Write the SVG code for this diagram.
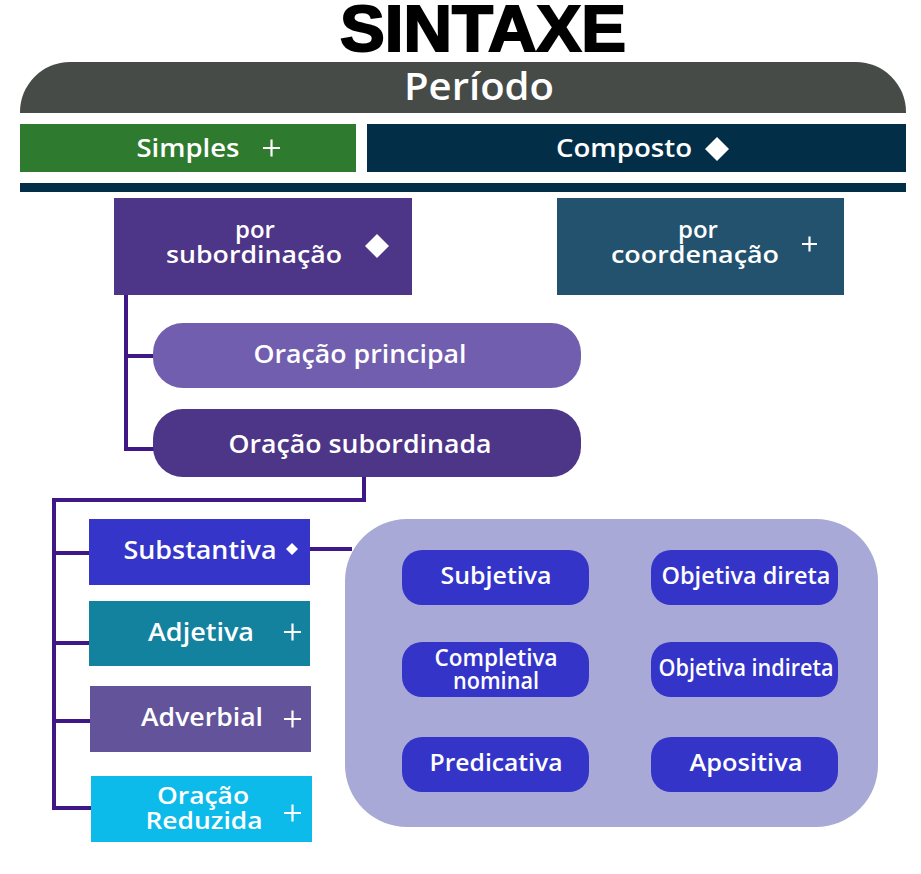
<svg xmlns="http://www.w3.org/2000/svg" width="921" height="874" viewBox="0 0 921 874">
<style>
text{font-family:"Open Sans","Liberation Sans",sans-serif;fill:#fff;text-anchor:middle;font-weight:600}
.t{font-family:"Liberation Sans",sans-serif;font-weight:700;fill:#000;stroke:#000;stroke-width:2}
.m{font-size:26px}
.d{font-size:24px}
.s{font-size:23px;font-weight:600}
.conn{fill:none;stroke:#3f1786;stroke-width:4}
.pl{stroke:#fff;stroke-width:2.2;fill:none}
.pill{fill:#3434c9}
</style>
<rect width="921" height="874" fill="#fff"/>
<g id="title"><text class="t" x="483" y="51" font-size="64" textLength="286" lengthAdjust="spacingAndGlyphs">SINTAXE</text></g>
<g id="periodo">
<path d="M20,113 V112 A50,50 0 0 1 70,62 H856 A50,50 0 0 1 906,112 V113 Z" fill="#464b48"/>
<text x="479" y="100" font-size="38" font-weight="500" textLength="150" lengthAdjust="spacingAndGlyphs">Período</text>
</g>
<g id="simples">
<rect x="20" y="124" width="336" height="48" fill="#2e7b2f"/>
<text class="m" x="188" y="157" font-weight="500" textLength="103" lengthAdjust="spacingAndGlyphs">Simples</text>
<path class="pl" d="M263,148 H280 M271.5,139.5 V156.5"/>
</g>
<g id="composto">
<rect x="367" y="124" width="539" height="48" fill="#022e48"/>
<text class="m" x="624" y="157" font-weight="500" textLength="136" lengthAdjust="spacingAndGlyphs">Composto</text>
<path d="M717,137 L729,149 L717,161 L705,149 Z" fill="#fff"/>
</g>
<rect x="20" y="183" width="886" height="9" fill="#022e48"/>
<g id="subordinacao">
<rect x="114" y="198" width="298" height="97" fill="#4d3587"/>
<text class="d" x="255" y="238">por</text>
<text class="d" x="254" y="263" textLength="176" lengthAdjust="spacingAndGlyphs">subordinação</text>
<path d="M377,234 L389,246 L377,258 L365,246 Z" fill="#fff"/>
</g>
<g id="coordenacao">
<rect x="557" y="198" width="287" height="97" fill="#22526e"/>
<text class="d" x="698" y="238">por</text>
<text class="d" x="695" y="263" textLength="168" lengthAdjust="spacingAndGlyphs">coordenação</text>
<path class="pl" d="M802,244 H817 M809.5,236.5 V251.5"/>
</g>
<g id="connectors">
<path class="conn" d="M126,295 V451 M126,356 H155 M126,449 H155"/>
<path class="conn" d="M364,477 V500 M366,500 H52 M54,498 V810 M54,553 H91 M54,643 H91 M54,721 H92 M54,808 H93"/>
<path class="conn" d="M310,549 H352"/>
</g>
<g id="principal">
<rect x="153" y="323" width="428" height="65" rx="30" fill="#715eae"/>
<text class="m" x="360" y="363" textLength="213" lengthAdjust="spacingAndGlyphs">Oração principal</text>
</g>
<g id="subordinada">
<rect x="153" y="409" width="428" height="68" rx="30" fill="#4d3587"/>
<text class="m" x="360" y="453" textLength="263" lengthAdjust="spacingAndGlyphs">Oração subordinada</text>
</g>
<g id="substantiva">
<rect x="89" y="519" width="221" height="66" fill="#3535c9"/>
<text class="m" x="200" y="559" textLength="153" lengthAdjust="spacingAndGlyphs">Substantiva</text>
<path d="M292,543 L298,549 L292,555 L286,549 Z" fill="#fff"/>
</g>
<g id="adjetiva">
<rect x="89" y="601" width="221" height="65" fill="#13829f"/>
<text class="m" x="201" y="641" textLength="106" lengthAdjust="spacingAndGlyphs">Adjetiva</text>
<path class="pl" d="M284,632 H301 M292.5,623.5 V640.5"/>
</g>
<g id="adverbial">
<rect x="90" y="686" width="221" height="66" fill="#63539b"/>
<text class="m" x="202" y="726" textLength="122" lengthAdjust="spacingAndGlyphs">Adverbial</text>
<path class="pl" d="M284,719 H301 M292.5,710.5 V727.5"/>
</g>
<g id="reduzida">
<rect x="91" y="776" width="221" height="66" fill="#0dbbea"/>
<text class="d" x="203" y="804" textLength="92" lengthAdjust="spacingAndGlyphs">Oração</text>
<text class="d" x="204" y="829" textLength="117" lengthAdjust="spacingAndGlyphs">Reduzida</text>
<path class="pl" d="M284,813 H301 M292.5,804.5 V821.5"/>
</g>
<g id="container">
<rect x="345" y="519" width="533" height="308" rx="62" fill="#a8a9d6"/>
</g>
<g id="subjetiva">
<rect class="pill" x="402" y="550" width="187" height="55" rx="20"/>
<text class="s" x="496" y="584" textLength="111" lengthAdjust="spacingAndGlyphs">Subjetiva</text>
</g>
<g id="objetiva-direta">
<rect class="pill" x="651" y="550" width="187" height="55" rx="20"/>
<text class="s" x="746" y="584" textLength="169" lengthAdjust="spacingAndGlyphs">Objetiva direta</text>
</g>
<g id="completiva">
<rect class="pill" x="402" y="642" width="187" height="55" rx="20"/>
<text class="s" x="496" y="666" font-size="22" textLength="123" lengthAdjust="spacingAndGlyphs">Completiva</text>
<text class="s" x="496" y="689" font-size="22" textLength="86" lengthAdjust="spacingAndGlyphs">nominal</text>
</g>
<g id="objetiva-indireta">
<rect class="pill" x="651" y="642" width="187" height="55" rx="20"/>
<text class="s" x="746" y="676" textLength="175" lengthAdjust="spacingAndGlyphs">Objetiva indireta</text>
</g>
<g id="predicativa">
<rect class="pill" x="402" y="737" width="187" height="55" rx="20"/>
<text class="s" x="496" y="771" textLength="133" lengthAdjust="spacingAndGlyphs">Predicativa</text>
</g>
<g id="apositiva">
<rect class="pill" x="651" y="737" width="187" height="55" rx="20"/>
<text class="s" x="746" y="771" textLength="113" lengthAdjust="spacingAndGlyphs">Apositiva</text>
</g>
</svg>
